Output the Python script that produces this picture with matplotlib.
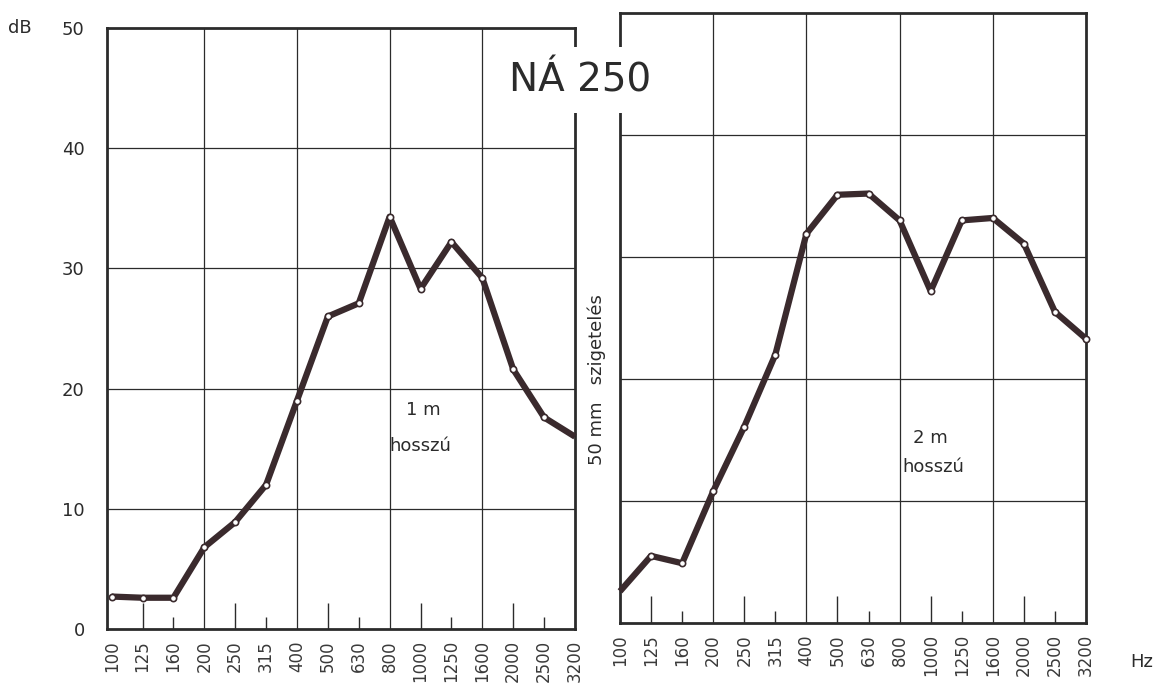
import matplotlib.pyplot as plt

# ==========================================
# Data
# ==========================================

freqs = ["100", "125", "160", "200", "250", "315", "400", "500", "630",
         "800", "1000", "1250", "1600", "2000", "2500", "3200"]

db_1m = [2.7, 2.6, 2.6, 6.8, 8.9, 12.0, 19.0, 26.0, 27.1,
         34.3, 28.3, 32.2, 29.2, 21.6, 17.6, 16.0]

db_2m = [2.6, 5.5, 4.9, 10.8, 16.1, 22.0, 31.9, 35.1, 35.2,
         33.0, 27.2, 33.0, 33.2, 31.1, 25.5, 23.3]

y_ticks = [0, 10, 20, 30, 40, 50]
grid_x = [3, 6, 9, 12]          # 200, 400, 800, 1600 Hz
tall_ticks = [1, 4, 7, 10, 13]  # 125, 250, 500, 1000, 2000
short_ticks = [2, 5, 8, 11, 14]  # 160, 315, 630, 1250, 2500

title = "NÁ 250"
label_1m = "1 m\nhosszú"
label_2m = "2 m\nhosszú"
side_text = "50 mm   szigetelés"

LINE_COL = "#3a2a2d"
INK = "#2b2b2b"

# ==========================================
# Figure
# ==========================================

W, H = 1167, 693
fig = plt.figure(figsize=(W / 100, H / 100), dpi=100)
fig.patch.set_facecolor("white")


def px_axes(left, right, top, bottom):
    return fig.add_axes([left / W, (H - bottom) / H, (right - left) / W, (bottom - top) / H])


ax1 = px_axes(107, 575, 28, 629)
ax2 = px_axes(620, 1086, 13, 623)

x = list(range(len(freqs)))

for ax, vals, xmin, every in [(ax1, db_1m, -0.15, list(range(15))),
                              (ax2, db_2m, 0.0, list(range(1, 16)))]:
    ax.set_xlim(xmin, 15)
    ax.set_ylim(0, 50)
    ax.set_facecolor("white")

    # grid
    for g in grid_x:
        ax.axvline(g, color=INK, lw=0.9, zorder=1)
    for t in y_ticks[1:-1]:
        ax.axhline(t, color=INK, lw=0.9, zorder=1)

    # little inner ticks along the bottom
    ax.vlines(tall_ticks, 0, 2.2, color=INK, lw=1.0, zorder=1)
    ax.vlines(short_ticks, 0, 1.0, color=INK, lw=1.0, zorder=1)

    ax.plot(x, vals, color=LINE_COL, lw=4.5, zorder=3, solid_capstyle="butt",
            marker="o", markersize=4.5, markerfacecolor="white",
            markeredgecolor=LINE_COL, markeredgewidth=1.2, markevery=every,
            clip_on=False)

    for s in ax.spines.values():
        s.set_color(INK)
        s.set_linewidth(2)

    ax.set_xticks(x)
    ax.set_xticklabels(freqs, rotation=90, fontsize=12, color="#3a3a3a")
    ax.tick_params(axis="x", length=0, pad=8)

ax1.set_yticks(y_ticks)
ax1.set_yticklabels([str(t) for t in y_ticks], fontsize=13, color=INK)
ax1.tick_params(axis="y", length=0, pad=16)
ax2.set_yticks([])

ax1.text(10.1, 18.2, label_1m.split("\n")[0], ha="center", va="center", fontsize=13, color=INK)
ax1.text(10.0, 15.2, label_1m.split("\n")[1], ha="center", va="center", fontsize=13, color=INK)
ax2.text(10.0, 15.2, label_2m.split("\n")[0], ha="center", va="center", fontsize=13, color=INK)
ax2.text(10.1, 12.8, label_2m.split("\n")[1], ha="center", va="center", fontsize=13, color=INK)

# title sitting over the gap between the panels
fig.text(580 / W, 1 - 80 / H, title, ha="center", va="center", fontsize=28, color=INK,
         family=["Liberation Sans Narrow", "DejaVu Sans"],
         bbox=dict(facecolor="white", edgecolor="none", pad=10), zorder=10)

fig.text(597 / W, 1 - 380 / H, side_text, rotation=90, ha="center", va="center",
         fontsize=13, color=INK)
fig.text(20 / W, 1 - 28 / H, "dB", ha="center", va="center", fontsize=13, color=INK)
fig.text(1142 / W, 1 - 662 / H, "Hz", ha="center", va="center", fontsize=13, color=INK)

plt.savefig("out.png", dpi=100, facecolor="white")
